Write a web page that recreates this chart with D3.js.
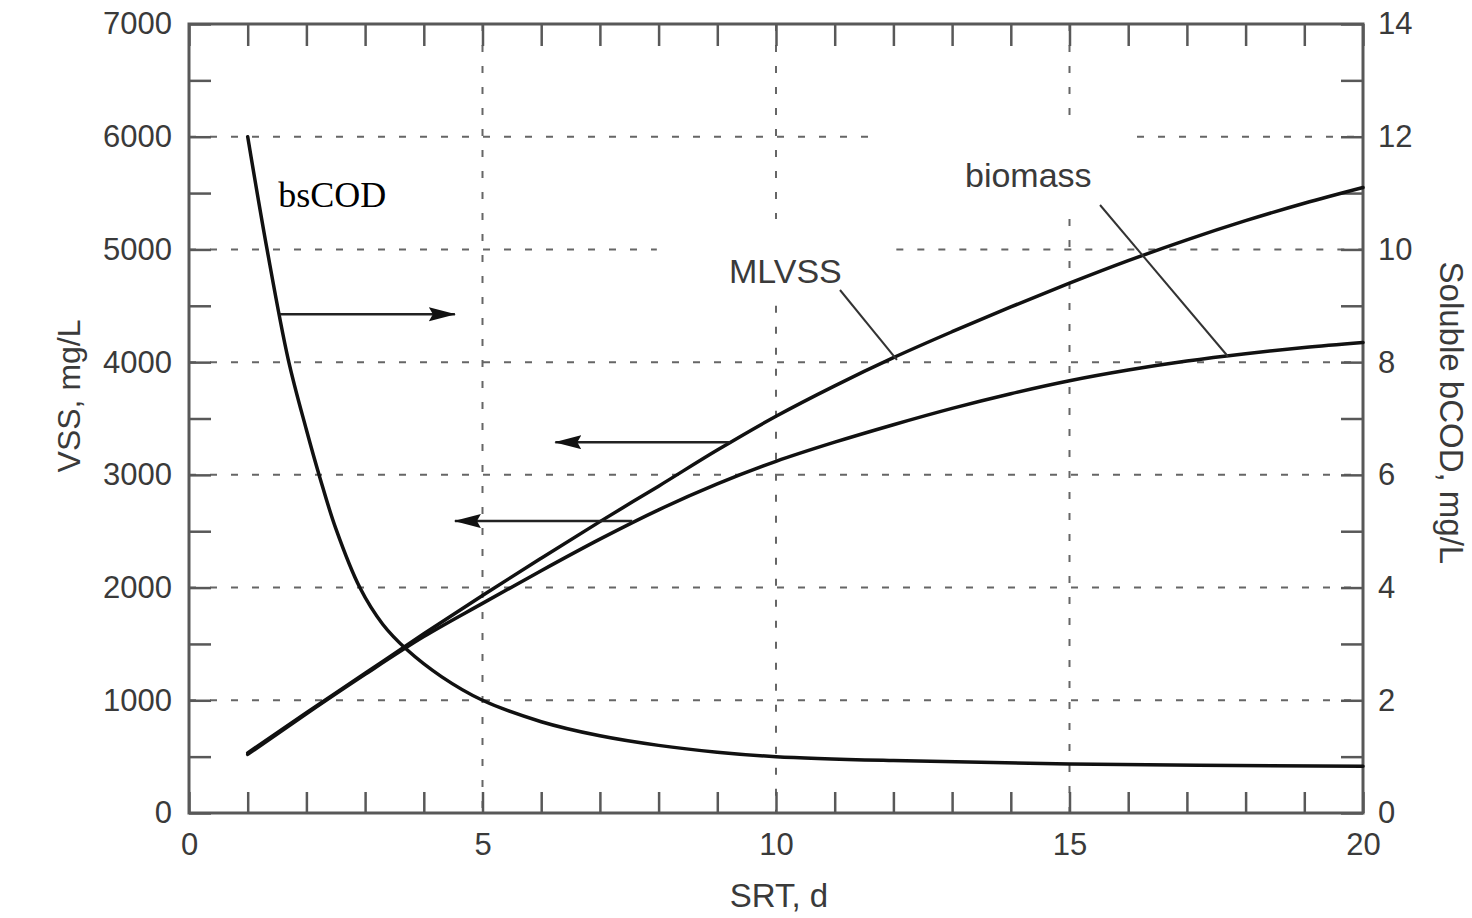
<!DOCTYPE html>
<html>
<head>
<meta charset="utf-8">
<script src="https://cdn.jsdelivr.net/npm/d3@7"></script>
<style>
  html, body { margin: 0; padding: 0; background: #fff; }
  svg { display: block; }
</style>
</head>
<body>
<svg width="1472" height="918"></svg>
<script>
// SRT, d (x for the two VSS curves)
const srt = [1, 2, 3, 4, 5, 6, 7, 8, 9, 10, 11, 12, 13, 14, 15, 16, 17, 18, 19, 20];
// VSS, mg/L
const mlvss = [533, 890, 1240, 1590, 1930, 2260, 2585, 2900, 3220, 3520, 3790, 4040, 4270, 4490, 4700, 4900, 5085, 5255, 5410, 5550];
const biomass = [520, 880, 1230, 1565, 1860, 2150, 2430, 2690, 2920, 3120, 3290, 3445, 3590, 3720, 3835, 3930, 4010, 4075, 4130, 4175];
// soluble bCOD, mg/L (right axis)
const bscodSrt = [1, 1.33, 1.69, 2.0, 2.23, 2.5, 2.91, 3.3, 3.71, 4.3, 5, 6, 7, 8, 9, 10, 12, 15, 20];
const bscod = [12, 10, 8.05, 6.8, 5.95, 5.05, 4.0, 3.35, 2.9, 2.42, 2.0, 1.62, 1.37, 1.2, 1.08, 1.0, 0.93, 0.87, 0.83];

// ticks
const xTicks = [0, 1, 2, 3, 4, 5, 6, 7, 8, 9, 10, 11, 12, 13, 14, 15, 16, 17, 18, 19, 20];
const xLabels = [0, 5, 10, 15, 20];
const leftTicks = [0, 500, 1000, 1500, 2000, 2500, 3000, 3500, 4000, 4500, 5000, 5500, 6000, 6500, 7000];
const leftLabels = [0, 1000, 2000, 3000, 4000, 5000, 6000, 7000];
const rightTicks = [0, 1, 2, 3, 4, 5, 6, 7, 8, 9, 10, 11, 12, 13, 14];
const rightLabels = [0, 2, 4, 6, 8, 10, 12, 14];

// dashed grid, broken where the labels sit
const gridH = [
  { v: 1000, parts: [[0, 20]] },
  { v: 2000, parts: [[0, 20]] },
  { v: 3000, parts: [[0, 20]] },
  { v: 4000, parts: [[0, 20]] },
  { v: 5000, parts: [[0, 7.97], [12.05, 20]] },
  { v: 6000, parts: [[0, 11.8], [16.15, 20]] },
];
const gridV = [
  { s: 5, parts: [[0, 7000]] },
  { s: 10, parts: [[0, 4500], [5270, 7000]] },
  { s: 15, parts: [[0, 5270], [6180, 7000]] },
];

// arrows pointing from a curve to its axis
const arrows = [
  { axis: "right", v: 8.85, from: 1.55, to: 4.53 },
  { axis: "left", v: 3290, from: 9.22, to: 6.24 },
  { axis: "left", v: 2590, from: 7.55, to: 4.53 },
];

const svg = d3.select("svg");
const margin = { left: 189, right: 109, top: 24, bottom: 105 };
const width = 1472, height = 918;

const x = d3.scaleLinear().domain([0, 20]).range([margin.left, width - margin.right]);
const yL = d3.scaleLinear().domain([0, 7000]).range([height - margin.bottom, margin.top]);
const yR = d3.scaleLinear().domain([0, 14]).range([height - margin.bottom, margin.top]);

const font = "'Liberation Sans', Arial, Helvetica, sans-serif";
const textCol = "#3a3a3a";
const axisCol = "#585858";

svg.append("marker")
  .attr("id", "head")
  .attr("markerUnits", "userSpaceOnUse")
  .attr("markerWidth", 28)
  .attr("markerHeight", 16)
  .attr("refX", 26)
  .attr("refY", 7)
  .attr("orient", "auto")
  .append("path")
  .attr("d", "M0,0 L27,7 L0,14 L4,7 Z")
  .attr("fill", "#111");

// Grid
const grid = svg.append("g")
  .attr("stroke", "#666")
  .attr("stroke-width", 2)
  .attr("stroke-dasharray", "7,14");

gridH.forEach((g) => {
  g.parts.forEach((p) => {
    grid.append("line")
      .attr("x1", x(p[0])).attr("x2", x(p[1]))
      .attr("y1", yL(g.v)).attr("y2", yL(g.v));
  });
});
gridV.forEach((g) => {
  g.parts.forEach((p) => {
    grid.append("line")
      .attr("x1", x(g.s)).attr("x2", x(g.s))
      .attr("y1", yL(p[1])).attr("y2", yL(p[0]));
  });
});

// Axes (ticks point inward)
function styleAxis(sel) {
  sel.select(".domain").remove();
  sel.selectAll(".tick line").attr("stroke", axisCol).attr("stroke-width", 2.5);
  sel.selectAll(".tick text")
    .attr("fill", textCol)
    .style("font-family", font)
    .style("font-size", "31px");
}

svg.append("g")
  .attr("transform", `translate(${margin.left},0)`)
  .call(d3.axisLeft(yL).tickValues(leftTicks).tickSize(-22).tickPadding(17)
    .tickFormat((d) => (leftLabels.includes(d) ? d : "")))
  .call(styleAxis);

svg.append("g")
  .attr("transform", `translate(${width - margin.right},0)`)
  .call(d3.axisRight(yR).tickValues(rightTicks).tickSize(-22).tickPadding(15)
    .tickFormat((d) => (rightLabels.includes(d) ? d : "")))
  .call(styleAxis);

svg.append("g")
  .attr("transform", `translate(0,${height - margin.bottom})`)
  .call(d3.axisBottom(x).tickValues(xTicks).tickSize(-21).tickPadding(20)
    .tickFormat((d) => (xLabels.includes(d) ? d : "")))
  .call(styleAxis);

svg.append("g")
  .attr("transform", `translate(0,${margin.top})`)
  .call(d3.axisTop(x).tickValues(xTicks).tickSize(-22).tickFormat(""))
  .call(styleAxis);

// frame
svg.append("rect")
  .attr("x", margin.left).attr("y", margin.top)
  .attr("width", width - margin.left - margin.right)
  .attr("height", height - margin.top - margin.bottom)
  .attr("fill", "none")
  .attr("stroke", axisCol)
  .attr("stroke-width", 3);

// Curves
const vssLine = d3.line()
  .x((d, i) => x(srt[i]))
  .y((d) => yL(d))
  .curve(d3.curveMonotoneX);

const codLine = d3.line()
  .x((d, i) => x(bscodSrt[i]))
  .y((d) => yR(d))
  .curve(d3.curveCatmullRom.alpha(0.5));

const curves = svg.append("g")
  .attr("fill", "none")
  .attr("stroke", "#111")
  .attr("stroke-width", 3.5)
  .attr("stroke-linecap", "round");

curves.append("path").attr("d", vssLine(mlvss));
curves.append("path").attr("d", vssLine(biomass));
curves.append("path").attr("d", codLine(bscod));

// Arrows
svg.append("g")
  .selectAll("line")
  .data(arrows)
  .enter()
  .append("line")
  .attr("x1", (d) => x(d.from))
  .attr("x2", (d) => x(d.to))
  .attr("y1", (d) => (d.axis === "right" ? yR(d.v) : yL(d.v)))
  .attr("y2", (d) => (d.axis === "right" ? yR(d.v) : yL(d.v)))
  .attr("stroke", "#222")
  .attr("stroke-width", 2.5)
  .attr("marker-end", "url(#head)");

// Curve labels with leader lines
const leaders = svg.append("g").attr("stroke", "#333").attr("stroke-width", 2);
leaders.append("line")
  .attr("x1", x(11.09)).attr("y1", yL(4640))
  .attr("x2", x(12.06)).attr("y2", yL(4020));
leaders.append("line")
  .attr("x1", x(15.52)).attr("y1", yL(5394))
  .attr("x2", x(17.7)).attr("y2", yL(4050));

svg.append("text")
  .attr("x", x(9.2)).attr("y", yL(4702))
  .attr("fill", textCol)
  .style("font-family", font).style("font-size", "34px")
  .text("MLVSS");

svg.append("text")
  .attr("x", x(13.22)).attr("y", yL(5554))
  .attr("fill", textCol)
  .style("font-family", font).style("font-size", "34px")
  .text("biomass");

svg.append("text")
  .attr("x", x(1.52)).attr("y", yR(10.75))
  .attr("fill", "#000")
  .style("font-family", "'Liberation Serif', 'Times New Roman', serif")
  .style("font-size", "36px")
  .text("bsCOD");

// Axis titles
svg.append("text")
  .attr("transform", `translate(80,${yL(3700)}) rotate(-90)`)
  .attr("text-anchor", "middle")
  .attr("fill", textCol)
  .style("font-family", font).style("font-size", "32px")
  .text("VSS, mg/L");

svg.append("text")
  .attr("transform", `translate(1440,${yR(7.1)}) rotate(90)`)
  .attr("text-anchor", "middle")
  .attr("fill", textCol)
  .style("font-family", font).style("font-size", "33px")
  .text("Soluble bCOD, mg/L");

svg.append("text")
  .attr("x", x(10.05)).attr("y", 907)
  .attr("text-anchor", "middle")
  .attr("fill", textCol)
  .style("font-family", font).style("font-size", "33px")
  .text("SRT, d");
</script>
</body>
</html>
